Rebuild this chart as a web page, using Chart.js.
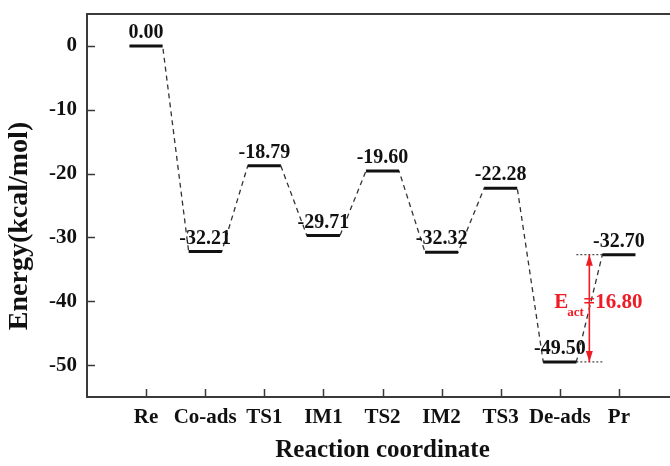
<!DOCTYPE html>
<html>
<head>
<meta charset="utf-8">
<script src="https://cdn.jsdelivr.net/npm/chart.js@4.4.1/dist/chart.umd.min.js"></script>
<style>
  html, body { margin: 0; padding: 0; background: #fff; overflow: hidden; }
  .wrap { position: absolute; left: 0; top: 0; width: 700px; height: 466px; }
</style>
</head>
<body>
<div class="wrap"><canvas id="energy-chart"></canvas></div>
<script>
const states = ["Re", "Co-ads", "TS1", "IM1", "TS2", "IM2", "TS3", "De-ads", "Pr"];
const energies = [0.0, -32.21, -18.79, -29.71, -19.6, -32.32, -22.28, -49.5, -32.7];
const yTicks = [0, -10, -20, -30, -40, -50];
const eActFrom = 7; // De-ads
const eActTo = 8; // Pr
const eActText = "=16.80";

const FONT = "'Liberation Serif', 'Times New Roman', serif";
const RED = "#ee1c25";
const half = 0.28; // half length of a level bar, in x units

// solid bars for each level (null breaks them apart)
const levelPoints = [];
// dashed profile joining the bar ends
const profilePoints = [];
energies.forEach((e, i) => {
  const x = i + 1;
  levelPoints.push({ x: x - half, y: e }, { x: x + half, y: e }, { x: x + 0.5, y: null });
  profilePoints.push({ x: x - half, y: e }, { x: x + half, y: e });
});

// dotted guides and the activation arrow between De-ads and Pr
const gx0 = eActFrom + 1 + half;
const gx1 = eActTo + 1 - half;
const guideLow = [{ x: gx0, y: energies[eActFrom] }, { x: gx1, y: energies[eActFrom] }];
const guideHigh = [{ x: gx0, y: energies[eActTo] }, { x: gx1, y: energies[eActTo] }];
const arrowX = (gx0 + gx1) / 2;
const arrowLine = [{ x: arrowX, y: energies[eActTo] }, { x: arrowX, y: energies[eActFrom] }];

const extras = {
  id: "extras",
  afterDatasetsDraw(chart) {
    const { ctx, chartArea: a, scales: { x, y } } = chart;
    ctx.save();

    // top frame
    ctx.strokeStyle = "#3a3a3a";
    ctx.lineWidth = 2;
    ctx.beginPath();
    ctx.moveTo(a.left, a.top);
    ctx.lineTo(a.right, a.top);
    ctx.lineTo(a.right, a.bottom);
    ctx.stroke();

    // inward tick marks
    ctx.lineWidth = 1.5;
    ctx.beginPath();
    x.ticks.forEach((t) => {
      const px = Math.round(x.getPixelForValue(t.value)) + 0.5;
      ctx.moveTo(px, a.bottom);
      ctx.lineTo(px, a.bottom - 8);
    });
    y.ticks.forEach((t) => {
      const py = Math.round(y.getPixelForValue(t.value)) + 0.5;
      ctx.moveTo(a.left, py);
      ctx.lineTo(a.left + 8, py);
    });
    ctx.stroke();

    // energy values above each level
    ctx.fillStyle = "#111";
    ctx.font = "bold 20px " + FONT;
    ctx.textAlign = "center";
    ctx.textBaseline = "alphabetic";
    energies.forEach((e, i) => {
      ctx.fillText(e.toFixed(2), x.getPixelForValue(i + 1), y.getPixelForValue(e) - 8);
    });

    // arrow heads
    const ax = x.getPixelForValue(arrowX);
    const yTop = y.getPixelForValue(energies[eActTo]);
    const yBot = y.getPixelForValue(energies[eActFrom]);
    ctx.fillStyle = RED;
    ctx.beginPath();
    ctx.moveTo(ax, yTop);
    ctx.lineTo(ax - 3.5, yTop + 11);
    ctx.lineTo(ax + 3.5, yTop + 11);
    ctx.closePath();
    ctx.moveTo(ax, yBot);
    ctx.lineTo(ax - 3.5, yBot - 11);
    ctx.lineTo(ax + 3.5, yBot - 11);
    ctx.closePath();
    ctx.fill();

    // E_act label
    const ym = (yTop + yBot) / 2;
    ctx.textAlign = "left";
    ctx.font = "bold 21px " + FONT;
    ctx.fillText("E", ax - 35, ym);
    ctx.fillText(eActText, ax - 6, ym);
    ctx.font = "bold 13px " + FONT;
    ctx.fillText("act", ax - 22, ym + 8);

    // y axis title
    ctx.fillStyle = "#111";
    ctx.font = "bold 28px " + FONT;
    ctx.textAlign = "center";
    ctx.textBaseline = "middle";
    ctx.translate(20, 226);
    ctx.rotate(-Math.PI / 2);
    ctx.fillText("Energy(kcal/mol)", 0, 0);
    ctx.restore();
  },
};

const ctx = document.getElementById("energy-chart").getContext("2d");

new Chart(ctx, {
  type: "line",
  data: {
    datasets: [
      {
        label: "levels",
        data: levelPoints,
        borderColor: "#111",
        borderWidth: 3,
        pointRadius: 0,
        spanGaps: false,
        order: 0,
      },
      {
        label: "profile",
        data: profilePoints,
        borderColor: "#333",
        borderWidth: 1.3,
        borderDash: [5, 4],
        pointRadius: 0,
        order: 3,
      },
      {
        label: "guide low",
        data: guideLow,
        borderColor: "#444",
        borderWidth: 1.2,
        borderDash: [2, 2],
        pointRadius: 0,
        order: 2,
      },
      {
        label: "guide high",
        data: guideHigh,
        borderColor: "#444",
        borderWidth: 1.2,
        borderDash: [2, 2],
        pointRadius: 0,
        order: 2,
      },
      {
        label: "Eact",
        data: arrowLine,
        borderColor: RED,
        borderWidth: 1.6,
        pointRadius: 0,
        order: 1,
      },
    ],
  },
  plugins: [extras],
  options: {
    responsive: true,
    maintainAspectRatio: false,
    animation: false,
    layout: { padding: { left: 0, top: 14, right: 22, bottom: 0 } },
    plugins: {
      legend: { display: false },
      tooltip: { enabled: false },
    },
    scales: {
      x: {
        type: "linear",
        min: 0,
        max: 10,
        afterBuildTicks: (scale) => {
          scale.ticks = states.map((_, i) => ({ value: i + 1 }));
        },
        afterFit: (scale) => {
          scale.height = 69;
          scale.paddingLeft = 0;
          scale.paddingRight = 0;
        },
        grid: { drawOnChartArea: false, drawTicks: false },
        border: { display: true, color: "#3a3a3a", width: 2 },
        ticks: {
          autoSkip: false,
          maxRotation: 0,
          padding: 8,
          color: "#111",
          font: { family: FONT, size: 21, weight: "bold" },
          callback: (v) => states[v - 1],
        },
        title: {
          display: true,
          text: "Reaction coordinate",
          color: "#111",
          padding: { top: 0, bottom: 0 },
          font: { family: FONT, size: 25, weight: "bold" },
        },
      },
      y: {
        min: -55,
        max: 5,
        afterBuildTicks: (scale) => {
          scale.ticks = yTicks.map((v) => ({ value: v }));
        },
        afterFit: (scale) => {
          scale.width = 87;
          scale.paddingTop = 0;
          scale.paddingBottom = 0;
        },
        grid: { drawOnChartArea: false, drawTicks: false },
        border: { display: true, color: "#3a3a3a", width: 2 },
        ticks: {
          padding: 10,
          color: "#111",
          font: { family: FONT, size: 21, weight: "bold" },
          callback: (v) => String(v),
        },
      },
    },
  },
});
</script>
</body>
</html>
